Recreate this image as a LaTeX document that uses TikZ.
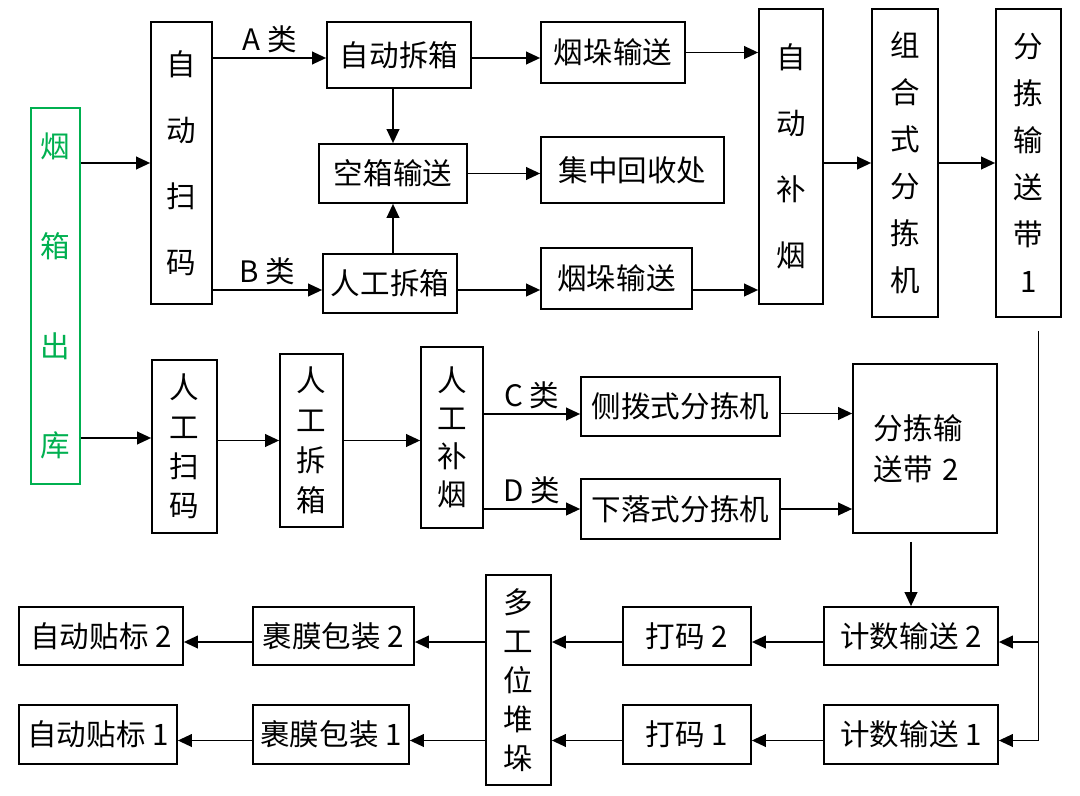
\documentclass[tikz,border=0pt]{standalone}
\usepackage{fontspec}
\usetikzlibrary{arrows.meta}
\newfontfamily\cjk{Noto Sans CJK SC}
\definecolor{kugreen}{RGB}{0,176,80}
\newcommand\vf[1]{\cjk\fontsize{21}{#1}\selectfont}

\begin{document}
\begin{tikzpicture}[x=0.025cm,y=-0.025cm,
    box/.style={draw,line width=1.2pt,inner sep=0pt,font=\vf{25},align=center},
    sz/.style 2 args={minimum width=#1*0.025cm,minimum height=#2*0.025cm},
    arr/.style={line width=1.3pt,-{Triangle[length=10pt,width=9pt]}},
    lo/.style={transform canvas={yshift=#1*-0.025cm}},
    lbl/.style={font=\vf{25},inner sep=3pt}]
    \useasboundingbox (0,0) rectangle (1080,796);

    % top part
    \node[box,sz={49}{376},draw=kugreen,text=kugreen,font=\vf{71}] (chuku) at (55.5,296) {烟\\箱\\出\\库};
    \node[box,sz={61}{282},font=\vf{47}] (zdsm) at (181.5,163) {自\\动\\扫\\码};
    \node[box,sz={144}{66}] (zdcx) at (399,55) {自动拆箱};
    \node[box,sz={144}{61}] (ydss1) at (613,52.5) {烟垛输送};
    \node[box,sz={148}{59}] (kxss) at (393,173.5) {空箱输送};
    \node[box,sz={183}{66}] (jzhs) at (632.5,170) {集中回收处};
    \node[box,sz={134}{59}] (rgcx1) at (390,283.5) {人工拆箱};
    \node[box,sz={151}{61}] (ydss2) at (616.5,278.5) {烟垛输送};
    \node[box,sz={64}{295},font=\vf{47}] (zdby) at (791,156.5) {自\\动\\补\\烟};
    \node[box,sz={66}{308},font=\vf{33.4}] (zhfj) at (905,163) {组\\合\\式\\分\\拣\\机};
    \node[box,sz={65}{308},font=\vf{33.4}] (fjd1) at (1028.5,163) {分\\拣\\输\\送\\带\\1};

    % middle part
    \node[box,sz={65}{173},font=\vf{28}] (rgsm) at (184.5,446.5) {人\\工\\扫\\码};
    \node[box,sz={63}{173},font=\vf{28.4}] (rgcx2) at (311.5,440.5) {人\\工\\拆\\箱};
    \node[box,sz={62}{181},font=\vf{27}] (rgby) at (452,437.5) {人\\工\\补\\烟};
    \node[box,sz={199}{59}] (cbfj) at (680.5,406.5) {侧拨式分拣机};
    \node[box,sz={199}{60}] (xlfj) at (680.5,509) {下落式分拣机};
    \node[box,sz={144}{169},font=\vf{29},align=left,text width=2.55cm] (fjd2) at (925,448.5) {分拣输\\送带 2};

    % bottom part
    \node[box,sz={174}{58}] (jsss2) at (911,636) {计数输送 2};
    \node[box,sz={174}{59}] (jsss1) at (911,734.5) {计数输送 1};
    \node[box,sz={128}{58}] (dm2) at (687,636) {打码 2};
    \node[box,sz={128}{59}] (dm1) at (687,734.5) {打码 1};
    \node[box,sz={65}{210},font=\vf{27.7}] (dgw) at (518.5,680) {多\\工\\位\\堆\\垛};
    \node[box,sz={161}{58}] (gm2) at (333.5,636) {裹膜包装 2};
    \node[box,sz={156}{59}] (gm1) at (331,734.5) {裹膜包装 1};
    \node[box,sz={164}{58}] (tb2) at (101,636) {自动贴标 2};
    \node[box,sz={158}{59}] (tb1) at (98,734.5) {自动贴标 1};

    \coordinate (fjd1b) at ([shift={(10,7)}]fjd1.south);
    \path (jsss2.north |- fjd2.south) ++(0,8) coordinate (fjd2b);

    \draw[arr] (chuku.east |- zdsm.west) -- (zdsm.west);
    \draw[arr,lo=3] (zdsm.east |- zdcx.west) -- node[above,lbl] {A 类} (zdcx.west);
    \draw[arr,lo=6.5] (zdsm.east |- rgcx1.west) -- node[above,lbl] {B 类} (rgcx1.west);
    \draw[arr,lo=3] (zdcx.east) -- (zdcx.east -| ydss1.west);
    \draw[arr] (zdcx.south -| kxss.north) -- (kxss.north);
    \draw[arr] (rgcx1.north -| kxss.south) -- (kxss.south);
    \draw[arr] (kxss.east) -- (kxss.east -| jzhs.west);
    \draw[arr,lo=6.5] (rgcx1.east) -- (rgcx1.east -| ydss2.west);
    \draw[arr] (ydss1.east) -- (ydss1.east -| zdby.west);
    \draw[arr,lo=11.5] (ydss2.east) -- (ydss2.east -| zdby.west);
    \draw[arr] (zdby.east |- zhfj.west) -- (zhfj.west);
    \draw[arr] (zhfj.east) -- (fjd1.west);

    \draw[arr,lo=-8.5] (chuku.east |- rgsm.west) -- (rgsm.west);
    \draw[arr] (rgsm.east |- rgcx2.west) -- (rgcx2.west);
    \draw[arr] (rgcx2.east) -- (rgcx2.east -| rgby.west);
    \draw[arr,lo=7.5] (rgby.east |- cbfj.west) -- node[above,lbl] {C 类} (cbfj.west);
    \draw[arr] (rgby.east |- xlfj.west) -- node[above,lbl] {D 类} (xlfj.west);
    \draw[arr,lo=7] (cbfj.east) -- (cbfj.east -| fjd2.west);
    \draw[arr] (xlfj.east) -- (xlfj.east -| fjd2.west);

    \draw[arr] (fjd2b) -- (jsss2.north);
    \draw[arr,lo=6] (fjd1b) |- (jsss1.east);
    \draw[arr,lo=6] (fjd1b |- jsss2.east) -- (jsss2.east);
    \draw[arr,lo=6] (jsss2.west) -- (dm2.east);
    \draw[arr,lo=6] (jsss1.west) -- (dm1.east);
    \draw[arr,lo=6] (dm2.west) -- (dm2.west -| dgw.east);
    \draw[arr,lo=6] (dm1.west) -- (dm1.west -| dgw.east);
    \draw[arr,lo=6] (dgw.west |- gm2.east) -- (gm2.east);
    \draw[arr,lo=6] (dgw.west |- gm1.east) -- (gm1.east);
    \draw[arr,lo=6] (gm2.west) -- (tb2.east);
    \draw[arr,lo=6] (gm1.west) -- (tb1.east);

\end{tikzpicture}
\end{document}
